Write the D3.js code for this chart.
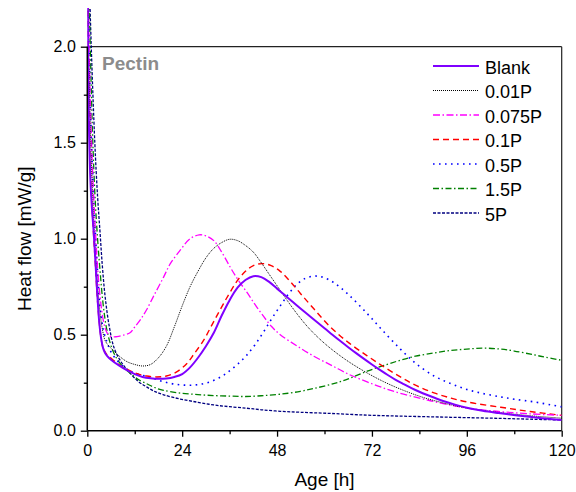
<!DOCTYPE html>
<html><head><meta charset="utf-8">
<script src="https://cdn.jsdelivr.net/npm/d3@7"></script>
<style>body{margin:0;background:#fff;} svg{display:block;font-family:"Liberation Sans",Arial,sans-serif;}</style>
</head><body>
<svg id="c" width="576" height="492"></svg>
<script>
const seriesNames = ["Blank","0.01P","0.075P","0.1P","0.5P","1.5P","5P"];
const seriesColors = ["#7f00ff","#000000","#ff00ff","#ff0000","#0000ff","#008000","#000080"];
const xTicks = [0,24,48,72,96,120];
const xMinor = [12,36,60,84,108];
const yTicks = [0,0.5,1.0,1.5,2.0];
const yMinor = [0.25,0.75,1.25,1.75];

const blank = [[0.05,2.5],[0.2,1.9],[0.4,1.6],[0.8,1.3],[1.2,1.15],[1.6,1.04],[2,0.9],[2.5,0.72],[3,0.57],[3.5,0.48],[4,0.43],[4.5,0.405],[5,0.39],[6,0.37],[8,0.34],[10,0.315],[12,0.295],[14,0.28],[16,0.273],[18,0.27],[20,0.272],[22,0.28],[24,0.295],[26,0.33],[28,0.38],[30,0.44],[32,0.51],[34,0.6],[36,0.68],[38,0.745],[40,0.785],[42,0.805],[44,0.8],[46,0.775],[48,0.74],[50,0.705],[52,0.67],[54,0.635],[56,0.601],[58,0.567],[60,0.534],[62,0.5],[64,0.467],[66,0.435],[68,0.404],[70,0.374],[72,0.345],[74,0.317],[76,0.29],[78,0.265],[80,0.243],[82,0.222],[84,0.203],[86,0.186],[88,0.17],[90,0.155],[93,0.136],[96,0.12],[100,0.104],[104,0.092],[110,0.076],[115,0.065],[120,0.056]];
const p001 = [[0.1,2.5],[0.4,1.9],[0.8,1.55],[1.3,1.25],[1.8,1.02],[2.3,0.85],[2.8,0.7],[3.3,0.6],[3.8,0.53],[4.5,0.47],[5.5,0.44],[7,0.41],[8,0.39],[10,0.36],[12,0.345],[14,0.337],[16,0.345],[18,0.38],[20,0.44],[22,0.54],[24,0.65],[26,0.75],[28,0.83],[30,0.9],[32,0.95],[34,0.98],[36,0.997],[38,0.99],[40,0.965],[42,0.93],[44,0.875],[46,0.815],[48,0.755],[50,0.695],[53,0.61],[56,0.535],[60,0.455],[65,0.375],[70,0.31],[75,0.255],[80,0.21],[85,0.173],[90,0.145],[96,0.118],[104,0.095],[112,0.078],[120,0.065]];
const p0075 = [[0.1,2.5],[0.5,1.95],[1,1.55],[1.5,1.27],[2,1.06],[2.5,0.88],[3,0.75],[3.5,0.65],[4,0.58],[4.5,0.535],[5,0.51],[6,0.49],[7.5,0.49],[9,0.497],[10.8,0.51],[12,0.54],[13.5,0.58],[15,0.63],[17,0.71],[19.3,0.8],[21,0.87],[23.5,0.94],[26,1.0],[28.3,1.02],[30,1.015],[32,0.99],[34,0.93],[36.2,0.85],[38,0.79],[40.4,0.72],[42.5,0.655],[44.6,0.595],[46.5,0.545],[48.8,0.5],[53,0.442],[57.3,0.388],[62,0.338],[66,0.295],[70.8,0.254],[75,0.222],[79.2,0.195],[84,0.17],[88,0.15],[92,0.133],[96,0.118],[104,0.1],[112,0.088],[120,0.08]];
const p01 = [[0.05,2.5],[0.3,1.85],[0.6,1.5],[1,1.25],[1.5,1.05],[2,0.88],[2.5,0.7],[3,0.57],[3.5,0.48],[4,0.43],[5,0.395],[5.6,0.385],[7,0.36],[9,0.33],[11,0.31],[13,0.295],[15,0.285],[17.6,0.28],[20,0.285],[22.5,0.305],[25.2,0.35],[27,0.4],[29.4,0.47],[31.5,0.55],[33.6,0.63],[35.8,0.71],[37.9,0.78],[40,0.83],[42,0.86],[44.2,0.87],[46.5,0.86],[48.8,0.83],[51,0.785],[53.9,0.715],[57.3,0.635],[61.5,0.54],[66,0.46],[70.8,0.39],[75,0.333],[79.2,0.28],[83,0.237],[87.7,0.197],[92,0.17],[96,0.15],[104.6,0.122],[112,0.1],[120,0.08]];
const p05 = [[0.1,2.5],[0.5,1.95],[1,1.55],[1.5,1.27],[2,1.05],[2.5,0.86],[3,0.7],[3.5,0.6],[4,0.53],[5,0.46],[6,0.41],[8,0.355],[10,0.32],[12,0.3],[15,0.283],[17,0.27],[19.3,0.255],[22,0.243],[25,0.237],[28,0.24],[31,0.254],[34,0.283],[36.2,0.315],[38.5,0.355],[40.4,0.395],[42.5,0.45],[44.6,0.515],[46.7,0.585],[48.8,0.65],[51,0.715],[53,0.762],[55,0.792],[57.3,0.805],[59.5,0.8],[62.3,0.772],[66,0.71],[70.8,0.61],[75,0.515],[79.2,0.425],[83,0.352],[87.7,0.285],[92,0.245],[96,0.215],[100,0.194],[104.6,0.176],[108,0.164],[113,0.15],[120,0.124]];
const p15 = [[0.2,2.5],[0.8,1.95],[1.4,1.5],[2,1.2],[2.6,1.0],[3.2,0.84],[4,0.66],[5,0.52],[6.6,0.41],[8.5,0.345],[10.8,0.3],[13,0.265],[15,0.245],[17,0.225],[19.3,0.21],[23.5,0.196],[28,0.188],[32,0.183],[36.2,0.18],[40,0.178],[44,0.182],[48.8,0.19],[53.9,0.205],[57.3,0.22],[62.3,0.245],[66,0.27],[70.8,0.31],[75,0.34],[79.2,0.367],[83,0.388],[87.7,0.405],[92,0.418],[96,0.425],[100.4,0.43],[104.6,0.425],[108,0.415],[113,0.395],[116,0.382],[120,0.367]];
const p5 = [[0.3,2.5],[1,2.0],[1.9,1.5],[2.6,1.22],[3.2,1.04],[3.8,0.86],[4.5,0.7],[5.5,0.55],[6.8,0.43],[8.5,0.36],[10.8,0.3],[13,0.255],[15,0.228],[17,0.205],[19.3,0.187],[23.5,0.165],[28,0.148],[32,0.134],[36,0.125],[40.4,0.117],[44,0.109],[48.8,0.101],[53.9,0.096],[61.5,0.09],[70.8,0.081],[79,0.076],[87.7,0.072],[96,0.068],[104.6,0.064],[112,0.06],[120,0.056]];

const seriesData = [blank,p001,p0075,p01,p05,p15,p5];
const styles = [
  {w:2, dash:null},
  {w:1, dash:"1,1"},
  {w:1.3, dash:"7,2.5,1.5,2.5"},
  {w:1.4, dash:"6,4"},
  {w:1.6, dash:"1.6,4.4"},
  {w:1.3, dash:"6,2.5,1.5,2.5"},
  {w:1.3, dash:"3,1.5"}
];

const svg = d3.select("#c");
const x = d3.scaleLinear().domain([0,120]).range([87.3,561.7]);
const y = d3.scaleLinear().domain([0,2]).range([430.7,46.7]);

svg.append("defs").append("clipPath").attr("id","clip")
  .append("rect").attr("x",x(0)).attr("y",8).attr("width",x(120)-x(0)).attr("height",y(0)-8);

// frame top & right
svg.append("line").attr("x1",x(0)).attr("x2",x(120)).attr("y1",y(2)).attr("y2",y(2)).attr("stroke","#222").attr("stroke-width",1.2);
svg.append("line").attr("x1",x(120)).attr("x2",x(120)).attr("y1",y(2)).attr("y2",y(0)).attr("stroke","#222").attr("stroke-width",1.2);

const line = d3.line().x(d=>x(d[0])).y(d=>y(d[1])).curve(d3.curveCatmullRom.alpha(0.5));
const g = svg.append("g").attr("clip-path","url(#clip)");
for (let i = seriesData.length-1; i>=0; i--) {
  g.append("path").datum(seriesData[i]).attr("d",line).attr("fill","none")
    .attr("stroke",seriesColors[i]).attr("stroke-width",styles[i].w)
    .attr("stroke-dasharray",styles[i].dash);
}

// axes
const xa = svg.append("g").attr("transform",`translate(0,${y(0)})`)
  .call(d3.axisBottom(x).tickValues(xTicks).tickSize(6).tickPadding(8).tickFormat(d3.format("d")));
svg.append("g").attr("transform",`translate(0,${y(0)})`)
  .call(d3.axisBottom(x).tickValues(xMinor).tickSize(3.5).tickFormat(""))
  .call(s=>s.select(".domain").remove());
const ya = svg.append("g").attr("transform",`translate(${x(0)},0)`)
  .call(d3.axisLeft(y).tickValues(yTicks).tickSize(6.5).tickPadding(5).tickFormat(d3.format(".1f")));
svg.append("g").attr("transform",`translate(${x(0)},0)`)
  .call(d3.axisLeft(y).tickValues(yMinor).tickSize(3.5).tickFormat(""))
  .call(s=>s.select(".domain").remove());
svg.selectAll(".tick line").attr("stroke","#000").attr("stroke-width",1.3);
svg.selectAll(".domain").attr("stroke","#000").attr("stroke-width",1.5);
xa.select(".domain").attr("d",`M${x(0)},0H${x(120)}`);
ya.select(".domain").attr("d",`M0,${y(0)}V${y(2)}`);
svg.selectAll(".tick text").attr("font-size",16).attr("fill","#000").attr("font-family","Liberation Sans, Arial, sans-serif");

// axis titles
svg.append("text").attr("x",(x(0)+x(120))/2).attr("y",486).attr("text-anchor","middle")
  .attr("font-size",19).text("Age [h]");
svg.append("text").attr("transform",`translate(31,${(y(0)+y(2))/2}) rotate(-90)`)
  .attr("text-anchor","middle").attr("font-size",19).text("Heat flow [mW/g]");

// annotation
svg.append("text").attr("x",102).attr("y",70).attr("font-size",19).attr("font-weight","bold")
  .attr("fill","#8c8c8c").text("Pectin");

// legend
const lg = svg.append("g");
seriesNames.forEach((n,i)=>{
  const yy = 66 + i*24.5;
  lg.append("line").attr("x1",433).attr("x2",479).attr("y1",yy).attr("y2",yy)
    .attr("stroke",seriesColors[i]).attr("stroke-width",styles[i].w)
    .attr("stroke-dasharray",styles[i].dash);
  lg.append("text").attr("x",485).attr("y",yy).attr("dy","0.42em").attr("font-size",18).text(n);
});
</script>
</body></html>
